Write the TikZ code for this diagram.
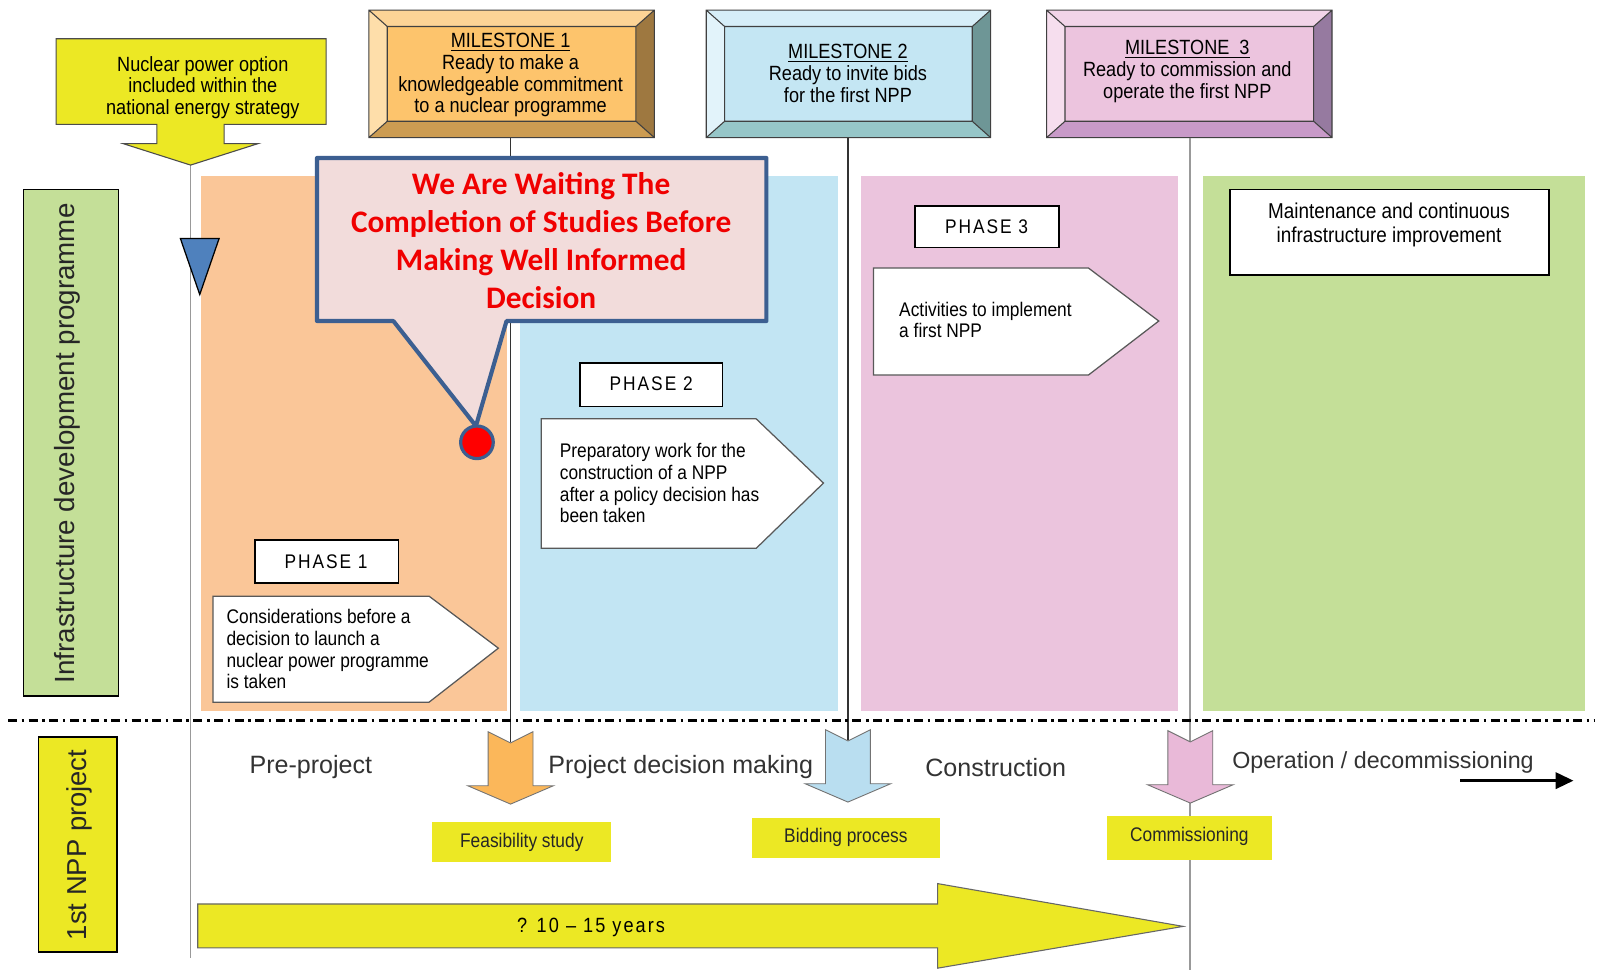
\documentclass[tikz,border=0pt]{standalone}
\usepackage{fontspec}
\setmainfont{Liberation Sans}[FakeStretch=0.88]
\newfontfamily\widefont{Liberation Sans}
\newfontfamily\phasefont{Liberation Sans}[FakeStretch=0.88,LetterSpace=10]
\newfontfamily\noticefont{Carlito}
\usetikzlibrary{arrows.meta}

\definecolor{npyellow}{RGB}{236,232,36}
\definecolor{pnorange}{RGB}{250,198,152}
\definecolor{pnblue}{RGB}{194,229,243}
\definecolor{pnpink}{RGB}{235,196,221}
\definecolor{pngreen}{RGB}{196,223,152}
\definecolor{msAin}{RGB}{253,196,108}
\definecolor{msAtop}{RGB}{253,212,150}
\definecolor{msAleft}{RGB}{254,222,170}
\definecolor{msAright}{RGB}{158,120,64}
\definecolor{msAbot}{RGB}{204,156,82}
\definecolor{msBin}{RGB}{196,230,243}
\definecolor{msBtop}{RGB}{214,238,248}
\definecolor{msBleft}{RGB}{226,243,250}
\definecolor{msBright}{RGB}{110,150,150}
\definecolor{msBbot}{RGB}{150,198,200}
\definecolor{msCin}{RGB}{236,196,222}
\definecolor{msCtop}{RGB}{242,212,232}
\definecolor{msCleft}{RGB}{246,222,238}
\definecolor{msCright}{RGB}{150,122,160}
\definecolor{msCbot}{RGB}{200,154,200}
\definecolor{calloutfill}{RGB}{242,220,219}
\definecolor{calloutedge}{RGB}{60,95,145}
\definecolor{noticered}{RGB}{240,0,0}
\definecolor{arrorange}{RGB}{251,183,90}
\definecolor{arrblue}{RGB}{185,222,240}
\definecolor{arrpink}{RGB}{233,185,216}
\definecolor{markblue}{RGB}{79,129,189}

\tikzset{
  phasebox/.style={draw=black, fill=white, line width=0.9pt},
  phasearrow/.style={draw=black!65, fill=white, line width=0.7pt},
  phasetext/.style={anchor=west, align=left, inner sep=0pt, font=\fontsize{11}{12.2}\selectfont},
  mstext/.style={align=center, inner sep=0pt, font=\fontsize{11.5}{12.1}\selectfont},
  msedge/.style={draw=black!75, line width=0.6pt},
  msline/.style={draw=black!80, line width=0.8pt},
  greyline/.style={draw=black!40, line width=1pt},
  steplabel/.style={inner sep=0pt, font=\widefont\fontsize{14}{16}\selectfont, text=black!80},
  yellowtag/.style={fill=npyellow},
  downarrow/.style={draw=black!55, line width=0.5pt},
}

\begin{document}
\begin{tikzpicture}[x=0.02cm, y=-0.02cm]
  \useasboundingbox (0,0) rectangle (1568,952);
  \fill[white] (0,0) rectangle (1568,952);

  % phase panels
  \fill[pnorange] (197,173) rectangle (497,698);
  \fill[pnblue] (510,173) rectangle (822,698);
  \fill[pnpink] (845,173) rectangle (1156,698);
  \fill[pngreen] (1180,173) rectangle (1555,698);

  % connector ends
  \coordinate (opttip) at (187,162);
  \coordinate (axisbot) at (187,940);
  \coordinate (ms1foot) at (501,135);
  \coordinate (ms2foot) at (832,135);
  \coordinate (ms3foot) at (1168,135);
  \coordinate (feasnotch) at (501,728);
  \coordinate (bidnotch) at (832,726);
  \coordinate (commnotch) at (1168,727);
  \coordinate (commtip) at (1168,788);
  \coordinate (commbot) at (1168,952);

  \draw[greyline] (opttip) -- (axisbot);

  % national strategy arrow
  \draw[draw=black!70, fill=npyellow, line width=0.6pt] (55,38) -- (320,38) -- (320,122) -- (220,122) -- (220,141)
    -- (253,141) -- (187,162) -- (121,141) -- (154,141) -- (154,122) -- (55,122) -- cycle;
  \node[mstext] (option) at (199,86) {Nuclear power option\\included within the\\national energy strategy};

  \draw[draw=black, fill=markblue, line width=0.7pt] (177,234) -- (215,234) -- (196,289) -- cycle;

  % milestones
  \foreach \xa/\xb/\cin/\ctop/\cleft/\cright/\cbot in {362/642/msAin/msAtop/msAleft/msAright/msAbot,
      693/972/msBin/msBtop/msBleft/msBright/msBbot, 1027/1307/msCin/msCtop/msCleft/msCright/msCbot} {
    \fill[\ctop] (\xa,10) -- (\xb,10) -- (\xb-18,26) -- (\xa+18,26) -- cycle;
    \fill[\cbot] (\xa,135) -- (\xb,135) -- (\xb-18,119) -- (\xa+18,119) -- cycle;
    \fill[\cleft] (\xa,10) -- (\xa+18,26) -- (\xa+18,119) -- (\xa,135) -- cycle;
    \fill[\cright] (\xb,10) -- (\xb-18,26) -- (\xb-18,119) -- (\xb,135) -- cycle;
    \fill[\cin] (\xa+18,26) rectangle (\xb-18,119);
    \draw[msedge] (\xa,10) rectangle (\xb,135) (\xa+18,26) rectangle (\xb-18,119)
      (\xa,10) -- (\xa+18,26) (\xb,10) -- (\xb-18,26) (\xa,135) -- (\xa+18,119) (\xb,135) -- (\xb-18,119);
  }
  \node[mstext] (ms1) at (501,74) {\underline{MILESTONE 1}\\Ready to make a\\knowledgeable commitment\\to a nuclear programme};
  \node[mstext] (ms2) at (832,72) {\underline{MILESTONE 2}\\Ready to invite bids\\for the first NPP};
  \node[mstext] (ms3) at (1165,70) {\underline{MILESTONE\ \ 3}\\Ready to commission and\\operate the first NPP};

  \draw[msline] (ms1foot) -- (feasnotch);
  \draw[msline] (ms2foot) -- (bidnotch);
  \draw[greyline] (ms3foot) -- (commnotch);

  % phases
  \draw[phasebox] (250,530) rectangle (391,572);
  \node[font=\phasefont\fontsize{11}{12}\selectfont] (ph1) at (320,551) {PHASE 1};
  \draw[phasearrow] (209,585) -- (421,585) -- (489,636) -- (421,689) -- (209,689) -- cycle;
  \node[phasetext] (ph1txt) at (222,637) {Considerations before a\\decision to launch a\\nuclear power programme\\is taken};

  \draw[phasebox] (569,356) rectangle (709,399);
  \node[font=\phasefont\fontsize{11}{12}\selectfont] (ph2) at (639,377) {PHASE 2};
  \draw[phasearrow] (531,411) -- (742,411) -- (808,474) -- (742,538) -- (531,538) -- cycle;
  \node[phasetext] (ph2txt) at (549,474) {Preparatory work for the\\construction of a NPP\\after a policy decision has\\been taken};

  \draw[phasebox] (898,202) rectangle (1039,243);
  \node[font=\phasefont\fontsize{11}{12}\selectfont] (ph3) at (968,222) {PHASE 3};
  \draw[phasearrow] (857,263) -- (1068,263) -- (1137,315) -- (1068,368) -- (857,368) -- cycle;
  \node[phasetext] (ph3txt) at (882,314) {Activities to implement\\a first NPP};

  \draw[phasebox] (1207,186) rectangle (1520,270);
  \node[mstext, font=\fontsize{12}{13.6}\selectfont] (maint) at (1363,221) {Maintenance and continuous\\infrastructure improvement};

  % callout
  \draw[fill=calloutfill, draw=calloutedge, line width=2.3pt, line join=round]
    (311,155) -- (752,155) -- (752,315) -- (497,315) -- (467,418) -- (386,315) -- (311,315) -- cycle;
  \node[align=center, inner sep=0pt, text=noticered, font=\noticefont\bfseries\fontsize{17.5}{21.3}\selectfont] (wait) at (531,236)
    {We Are Waiting The\\Completion of Studies Before\\Making Well Informed\\Decision};
  \draw[fill=red, draw=calloutedge, line width=1.8pt] (468,434) circle (16);

  % divider
  \draw[black, line width=1.4pt, dash pattern=on 5pt off 2.5pt on 1.5pt off 2.5pt] (8,707) -- (1565,707);

  % project side
  \fill[pngreen] (23,186) rectangle (116,683);
  \draw[black, line width=0.8pt] (23,186) rectangle (116,683);
  \node[rotate=90, font=\widefont\fontsize{15.5}{17}\selectfont, text=black!85] (infra) at (66,435) {Infrastructure development programme};
  \fill[npyellow] (38,723) rectangle (115,934);
  \draw[black, line width=0.8pt] (38,723) rectangle (115,934);
  \node[rotate=90, font=\widefont\fontsize{15.3}{17}\selectfont, text=black!85] (first) at (78,829) {1st NPP project};

  \draw[greyline] (commtip) -- (commbot);

  \foreach \cx/\ty/\hy/\tipy/\col in {501/718/771/789/arrorange, 832/716/769/787/arrblue, 1168/717/770/788/arrpink}
    \draw[downarrow, fill=\col] (\cx-22,\ty) -- (\cx,\ty+11) -- (\cx+22,\ty) -- (\cx+22,\hy) -- (\cx+42,\hy)
      -- (\cx,\tipy) -- (\cx-42,\hy) -- (\cx-22,\hy) -- cycle;

  \node[steplabel] (pre) at (305,753) {Pre-project};
  \node[steplabel] (decide) at (668,753) {Project decision making};
  \node[steplabel] (build) at (977,753) {Construction};
  \node[steplabel, font=\widefont\fontsize{13}{15}\selectfont] (operate) at (1357,748) {Operation / decommissioning};
  \coordinate (opstart) at (1433,766);
  \coordinate (opend) at (1544,766);
  \draw[line width=1.8pt, -{Triangle[length=10pt,width=9pt]}] (opstart) -- (opend);

  \fill[yellowtag] (424,807) rectangle (600,846);
  \node[font=\fontsize{11}{12}\selectfont, text=black!85] (feas) at (512,827) {Feasibility study};
  \fill[yellowtag] (738,803) rectangle (922,842);
  \node[font=\fontsize{11}{12}\selectfont, text=black!85] (bid) at (830,822) {Bidding process};
  \fill[yellowtag] (1086,801) rectangle (1248,844);
  \node[font=\fontsize{11}{12}\selectfont, text=black!85] (comm) at (1167,821) {Commissioning};

  % duration arrow
  \draw[draw=black!60, fill=npyellow, line width=0.6pt] (194,887) -- (920,887) -- (920,867) -- (1161,909)
    -- (920,950) -- (920,930) -- (194,930) -- cycle;
  \node[font=\phasefont\fontsize{11.5}{13}\selectfont] (years) at (580,910) {? 10 – 15 years};
\end{tikzpicture}
\end{document}
